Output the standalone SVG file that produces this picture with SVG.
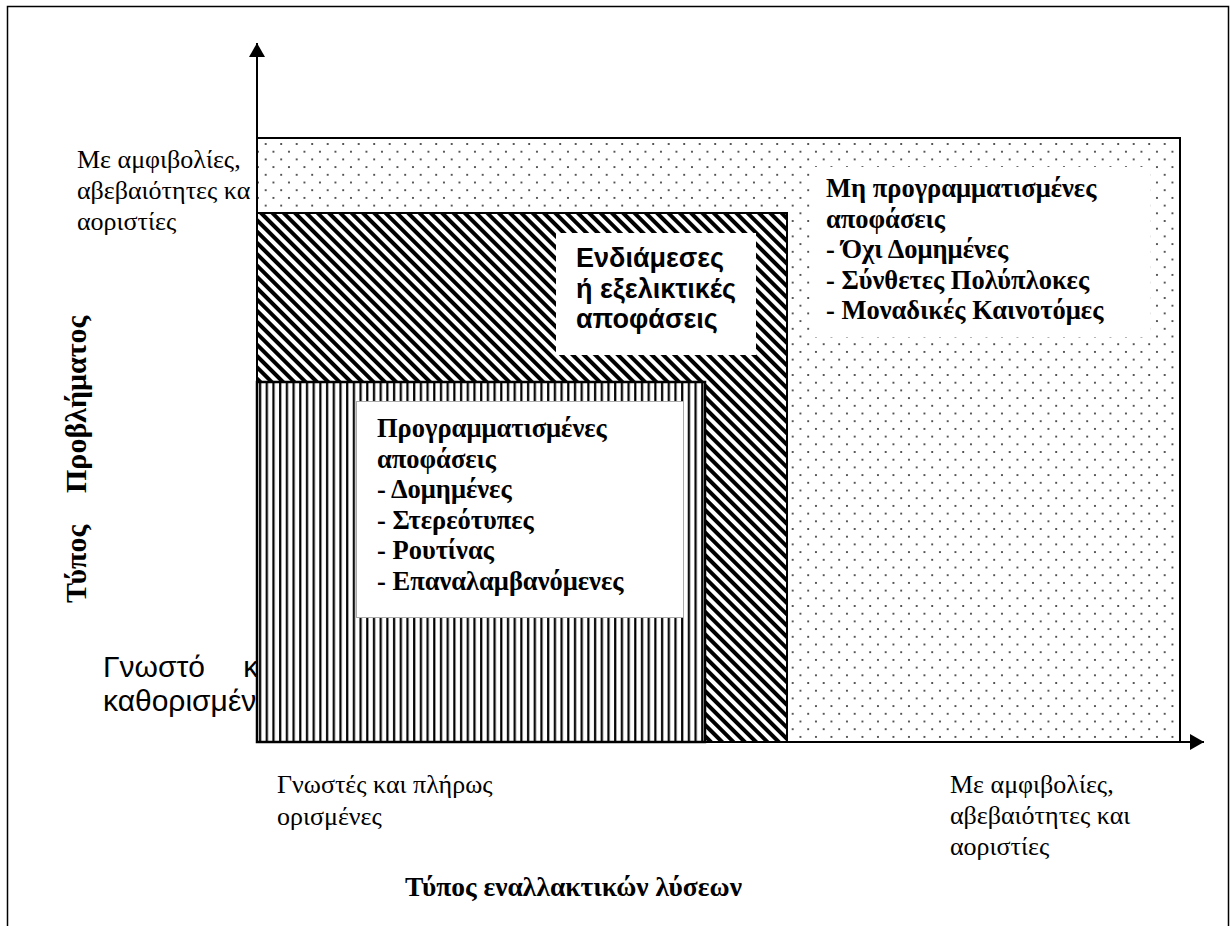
<svg xmlns="http://www.w3.org/2000/svg" width="1230" height="926" viewBox="0 0 1230 926">
  <defs>
    <pattern id="dots" patternUnits="userSpaceOnUse" x="261.8" y="140.15" width="15.5" height="15.4">
      <rect width="15.5" height="15.4" fill="#fff"/>
      <circle cx="3.9" cy="3.85" r="1" fill="#222"/>
      <circle cx="11.65" cy="11.55" r="1" fill="#222"/>
    </pattern>
    <pattern id="diag" patternUnits="userSpaceOnUse" width="8" height="8" patternTransform="rotate(-45)">
      <rect width="8" height="8" fill="#fff"/>
      <rect width="4" height="8" fill="#000"/>
    </pattern>
    <pattern id="vert" patternUnits="userSpaceOnUse" x="257" y="0" width="6.7" height="10">
      <rect width="6.7" height="10" fill="#fff"/>
      <rect x="2" width="2.2" height="10" fill="#000"/>
    </pattern>
    <marker id="arrow" viewBox="0 0 14 16" refX="14" refY="8" markerWidth="14" markerHeight="16" markerUnits="userSpaceOnUse" orient="auto">
      <path d="M0,0 L14,8 L0,16 Z" fill="#000"/>
    </marker>
    <style>
      .serif { font-family: "Liberation Serif", "Times New Roman", serif; fill: #000; }
      .sans { font-family: "Liberation Sans", Arial, sans-serif; fill: #000; }
      .reg { font-size: 26px; }
      .bold { font-size: 26.5px; font-weight: bold; }
      .ibox { font-size: 27px; font-weight: bold; }
      .box { stroke: #000; stroke-width: 2; }
    </style>
  </defs>

  <rect width="1230" height="926" fill="#fff"/>
  <path d="M7.5,926 V6.5 H1228.5 V926" fill="none" stroke="#000" stroke-width="1.5"/>

  <g id="label-y-top">
    <text class="serif reg" x="77" y="168">Με αμφιβολίες,</text>
    <text class="serif reg" x="77" y="199">αβεβαιότητες κα</text>
    <text class="serif reg" x="77" y="230">αοριστίες</text>
  </g>
  <g id="label-y-bottom">
    <text class="sans" font-size="30" x="103" y="677" word-spacing="30">Γνωστό κ</text>
    <text class="sans" font-size="30" x="103" y="711">καθορισμέν</text>
  </g>

  <g id="nonprog">
    <rect class="box" x="257" y="138" width="923" height="604" fill="url(#dots)"/>
    <rect x="813" y="167" width="337" height="170" fill="#fff"/>
    <text class="serif bold" x="826" y="197">Μη προγραμματισμένες</text>
    <text class="serif bold" x="826" y="227.5">αποφάσεις</text>
    <text class="serif bold" x="826" y="258">- Όχι Δομημένες</text>
    <text class="serif bold" x="826" y="288.5">- Σύνθετες Πολύπλοκες</text>
    <text class="serif bold" x="826" y="319">- Μοναδικές Καινοτόμες</text>
  </g>

  <g id="intermediate">
    <rect class="box" x="257" y="213" width="530" height="529" fill="url(#diag)"/>
    <rect x="556" y="233" width="200" height="122" fill="#fff"/>
    <text class="sans ibox" x="576" y="267">Ενδιάμεσες</text>
    <text class="sans ibox" x="576" y="297.5">ή εξελικτικές</text>
    <text class="sans ibox" x="576" y="328">αποφάσεις</text>
  </g>

  <g id="prog">
    <rect x="257" y="382" width="448" height="360" fill="url(#vert)" stroke="#000" stroke-width="2.5"/>
    <rect x="356.5" y="401.5" width="327" height="216" fill="#fff" stroke="#aaa" stroke-width="1"/>
    <text class="serif bold" x="377" y="437">Προγραμματισμένες</text>
    <text class="serif bold" x="377" y="467.5">αποφάσεις</text>
    <text class="serif bold" x="377" y="498">- Δομημένες</text>
    <text class="serif bold" x="377" y="528.5">- Στερεότυπες</text>
    <text class="serif bold" x="377" y="559">- Ρουτίνας</text>
    <text class="serif bold" x="377" y="589.5">- Επαναλαμβανόμενες</text>
  </g>

  <g id="connectors">
    <line x1="257" y1="742" x2="257" y2="43" stroke="#000" stroke-width="2" marker-end="url(#arrow)"/>
    <line x1="257" y1="742" x2="1204" y2="742" stroke="#000" stroke-width="2" marker-end="url(#arrow)"/>
  </g>

  <g id="axis-labels">
    <text class="serif" font-size="30" font-weight="bold" transform="translate(86,603) rotate(-90)"><tspan x="0" y="0">Τύπος </tspan><tspan x="110" y="0">Προβλήματος</tspan></text>
    <text class="serif reg" x="277" y="793">Γνωστές και πλήρως</text>
    <text class="serif reg" x="277" y="825">ορισμένες</text>
    <text class="serif reg" x="950" y="793">Με αμφιβολίες,</text>
    <text class="serif reg" x="950" y="824">αβεβαιότητες και</text>
    <text class="serif reg" x="950" y="855">αοριστίες</text>
    <text class="serif" font-size="27.5" font-weight="bold" x="405" y="896">Τύπος εναλλακτικών λύσεων</text>
  </g>
</svg>
